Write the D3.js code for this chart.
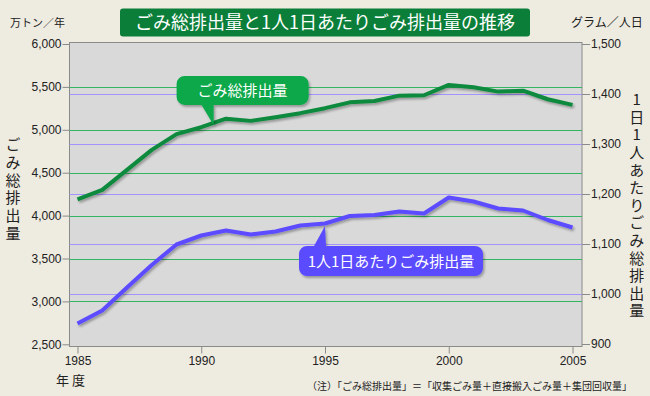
<!DOCTYPE html>
<html>
<head>
<meta charset="utf-8">
<script src="https://cdn.jsdelivr.net/npm/d3@7"></script>
<style>
body { margin: 0; background: #eeebe0; }
svg { display: block; font-family: "DejaVu Sans", sans-serif; }
.jp { font-family: "Noto Sans CJK JP", sans-serif; }
.vert { writing-mode: vertical-rl; text-orientation: upright; }
.axis text { font-size: 12px; fill: #222; }
.axis line { stroke: #8a8a8a; }
</style>
</head>
<body>
<svg id="chart" width="650" height="396"></svg>
<script>
// data
var years = [1985, 1986, 1987, 1988, 1989, 1990, 1991, 1992, 1993, 1994, 1995,
             1996, 1997, 1998, 1999, 2000, 2001, 2002, 2003, 2004, 2005];
// ごみ総排出量 (万トン/年)
var totalWaste = [4190, 4300, 4533, 4766, 4949, 5030, 5130, 5104, 5147, 5194, 5252,
                  5320, 5336, 5398, 5403, 5523, 5496, 5445, 5456, 5356, 5290];
// 1人1日あたりごみ排出量 (グラム/人日)
var perPerson = [941, 967, 1013, 1058, 1099, 1117, 1127, 1119, 1125, 1137, 1141,
                 1156, 1158, 1165, 1161, 1193, 1185, 1171, 1167, 1148, 1133];
var leftTicks = [2500, 3000, 3500, 4000, 4500, 5000, 5500, 6000];
var rightTicks = [900, 1000, 1100, 1200, 1300, 1400, 1500];
var xTicks = [1985, 1990, 1995, 2000, 2005];

(function() {
    var svg = d3.select("#chart");
    var plot = { left: 69.5, right: 582, top: 42.5, bottom: 346.5 };

    var x = d3.scaleLinear().domain([1985, 2005]).range([77.5, 572.5]);
    var yL = d3.scaleLinear().domain([2500, 6000]).range([344.3, 44]);
    var yR = d3.scaleLinear().domain([900, 1500]).range([344, 44]);

    var defs = svg.append("defs");
    var f = defs.append("filter").attr("id", "shadow")
        .attr("x", "-10%").attr("y", "-30%").attr("width", "130%").attr("height", "170%");
    f.append("feDropShadow").attr("dx", 1.5).attr("dy", 2).attr("stdDeviation", 1.2)
        .attr("flood-color", "#000").attr("flood-opacity", 0.3);

    // title
    svg.append("rect").attr("x", 120).attr("y", 8.5).attr("width", 410).attr("height", 28)
        .attr("rx", 3).style("fill", "#0b7f3a");
    svg.append("text").attr("class", "jp").attr("x", 325).attr("y", 29)
        .attr("text-anchor", "middle").style("font-size", "18px").style("fill", "#fff")
        .text("ごみ総排出量と1人1日あたりごみ排出量の推移");

    svg.append("text").attr("class", "jp").attr("x", 10).attr("y", 27)
        .style("font-size", "11px").style("fill", "#222").text("万トン／年");
    svg.append("text").attr("class", "jp").attr("x", 571).attr("y", 27)
        .style("font-size", "12px").style("fill", "#222").text("グラム／人日");

    // plot background
    svg.append("rect").attr("x", plot.left).attr("y", plot.top)
        .attr("width", plot.right - plot.left).attr("height", plot.bottom - plot.top)
        .style("fill", "#d9d9d9").style("stroke", "#8a8a8a");

    // grid lines
    svg.append("g").selectAll("line")
        .data(rightTicks.slice(1, -1)).enter().append("line")
        .attr("x1", plot.left).attr("x2", plot.right)
        .attr("y1", function(d) { return Math.round(yR(d)) + 0.5; })
        .attr("y2", function(d) { return Math.round(yR(d)) + 0.5; })
        .style("stroke", "#a293ff");
    svg.append("g").selectAll("line")
        .data(leftTicks.slice(1, -1)).enter().append("line")
        .attr("x1", plot.left).attr("x2", plot.right)
        .attr("y1", function(d) { return Math.round(yL(d)) + 0.5; })
        .attr("y2", function(d) { return Math.round(yL(d)) + 0.5; })
        .style("stroke", "#34b562");

    // axes
    svg.append("g").attr("class", "axis")
        .attr("transform", "translate(" + plot.left + ",0)")
        .call(d3.axisLeft(yL).tickValues(leftTicks).tickSize(7).tickPadding(1)
            .tickFormat(d3.format(",")));
    svg.append("g").attr("class", "axis")
        .attr("transform", "translate(" + plot.right + ",0)")
        .call(d3.axisRight(yR).tickValues(rightTicks).tickSize(8).tickPadding(1)
            .tickFormat(d3.format(",")));
    svg.append("g").attr("class", "axis")
        .attr("transform", "translate(0," + plot.bottom + ")")
        .call(d3.axisBottom(x).tickValues(xTicks).tickSize(7).tickPadding(3)
            .tickFormat(d3.format("d")));
    svg.selectAll(".axis .domain").remove();
    svg.selectAll(".axis text").attr("font-family", null).attr("font-size", null);

    // lines
    var lineL = d3.line().x(function(d, i) { return x(years[i]); })
        .y(function(d) { return yL(d); });
    var lineR = d3.line().x(function(d, i) { return x(years[i]); })
        .y(function(d) { return yR(d); });

    svg.append("path").datum(totalWaste).attr("d", lineL)
        .style("fill", "none").style("stroke", "#0b8a3c").style("stroke-width", 4)
        .style("stroke-linejoin", "round").attr("filter", "url(#shadow)");
    svg.append("path").datum(perPerson).attr("d", lineR)
        .style("fill", "none").style("stroke", "#5b4cff").style("stroke-width", 4)
        .style("stroke-linejoin", "round").attr("filter", "url(#shadow)");

    // callouts
    function callout(tx, ty, bx, by, w, h, b0, b1, color, label) {
        var r = 8;
        var p = d3.path();
        p.moveTo(bx + r, by);
        if (ty < by) { p.lineTo(bx + b0, by); p.lineTo(tx, ty); p.lineTo(bx + b1, by); }
        p.lineTo(bx + w - r, by);
        p.arcTo(bx + w, by, bx + w, by + r, r);
        p.lineTo(bx + w, by + h - r);
        p.arcTo(bx + w, by + h, bx + w - r, by + h, r);
        if (ty > by) { p.lineTo(bx + b1, by + h); p.lineTo(tx, ty); p.lineTo(bx + b0, by + h); }
        p.lineTo(bx + r, by + h);
        p.arcTo(bx, by + h, bx, by + h - r, r);
        p.lineTo(bx, by + r);
        p.arcTo(bx, by, bx + r, by, r);
        p.closePath();
        svg.append("path").attr("d", p.toString()).style("fill", color)
            .attr("filter", "url(#shadow)");
        svg.append("text").attr("class", "jp")
            .attr("x", bx + w / 2).attr("y", by + h / 2 + 5.5)
            .attr("text-anchor", "middle").style("font-size", "15px").style("fill", "#fff")
            .text(label);
    }
    var gx1 = x(1990.5), gy1 = (yL(totalWaste[5]) + yL(totalWaste[6])) / 2 + 2;
    callout(gx1, gy1, gx1 - 37, gy1 - 49, 132, 29, 25, 37, "#0aa84a", "ごみ総排出量");
    var px1 = x(1995), py1 = yR(perPerson[10]) + 2.5;
    callout(px1, py1, px1 - 26, py1 + 20, 184, 30, 15, 27, "#5a4bff", "1人1日あたりごみ排出量");

    // vertical axis titles
    svg.append("text").attr("class", "jp vert").attr("x", 13).attr("y", 137)
        .style("font-size", "15px").style("letter-spacing", "2.7px").style("fill", "#222")
        .text("ごみ総排出量");
    svg.append("text").attr("class", "jp vert").attr("x", 636.7).attr("y", 92)
        .style("font-size", "15px").style("letter-spacing", "2.6px").style("fill", "#222")
        .text("1日1人あたりごみ総排出量");

    svg.append("text").attr("class", "jp").attr("x", 56).attr("y", 385)
        .style("font-size", "13px").style("fill", "#222").text("年 度");
    svg.append("text").attr("class", "jp").attr("x", 307).attr("y", 390)
        .style("font-size", "10px").style("fill", "#222")
        .text("（注）「ごみ総排出量」＝「収集ごみ量＋直接搬入ごみ量＋集団回収量」");
})();
</script>
</body>
</html>
